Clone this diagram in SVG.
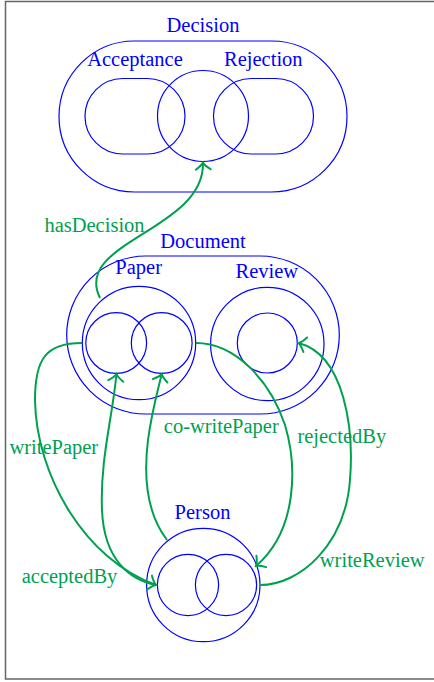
<svg xmlns="http://www.w3.org/2000/svg" width="434" height="682" viewBox="0 0 434 682">
<defs>
<style>
.n{fill:none;stroke:#0000ff;stroke-width:1.2}
.nl{fill:#0000ff;font-family:"Liberation Serif","Times New Roman",serif;font-size:20.5px;text-anchor:middle}
.e{fill:none;stroke:#00a050;stroke-width:2}
.el{fill:#00a050;font-family:"Liberation Serif","Times New Roman",serif;font-size:20.5px;text-anchor:middle}
</style>
<marker id="arr" viewBox="-10 -10 12 20" markerWidth="12" markerHeight="20" refX="0" refY="0" orient="auto" markerUnits="userSpaceOnUse">
<path d="M-7,-7.5 Q-3,-1.5 0,0 Q-3,1.5 -7,7.5" fill="none" stroke="#00a050" stroke-width="2" stroke-linecap="round"/>
</marker>
</defs>
<rect x="5.5" y="1.5" width="450" height="677.5" fill="#fff" stroke="#666" stroke-width="1.5"/>
<g id="Decision">
<rect class="n" x="59" y="41" width="288" height="151" rx="75.5"/>
<text class="nl" x="203" y="32">Decision</text>
</g>
<g id="Acceptance">
<rect class="n" x="85" y="78.5" width="100" height="75.5" rx="37.75"/>
<text class="nl" x="135" y="66">Acceptance</text>
</g>
<g id="Rejection">
<rect class="n" x="213.5" y="78.5" width="100" height="75.5" rx="37.75"/>
<text class="nl" x="263.3" y="66">Rejection</text>
</g>
<g id="DecisionMid">
<circle class="n" cx="203" cy="116" r="45.5"/>
</g>
<g id="Document">
<rect class="n" x="66.7" y="256" width="272.6" height="158" rx="79"/>
<text class="nl" x="203" y="248">Document</text>
</g>
<g id="Paper">
<circle class="n" cx="139" cy="343" r="56.7"/>
<circle class="n" cx="116.2" cy="343" r="30.4"/>
<circle class="n" cx="161.7" cy="343" r="30.4"/>
<text class="nl" x="138.7" y="274">Paper</text>
</g>
<g id="Review">
<circle class="n" cx="267.3" cy="344" r="56.7"/>
<circle class="n" cx="267.3" cy="343" r="30"/>
<text class="nl" x="266.8" y="278">Review</text>
</g>
<g id="Person">
<circle class="n" cx="203.3" cy="585" r="56.7"/>
<circle class="n" cx="188" cy="585" r="30.6"/>
<circle class="n" cx="226" cy="585" r="30.6"/>
<text class="nl" x="202.5" y="519">Person</text>
</g>
<g id="connectors">
<path class="e" d="M100,298 C72,242 205,230 203,162.5" marker-end="url(#arr)"/>
<path class="e" d="M82,343 C45,343 35,360 35,400 C36,475 85,560 156,585" marker-end="url(#arr)"/>
<path class="e" d="M156,585 C130,580 104,560 102,510 C100,460 112,420 116.5,374" marker-end="url(#arr)"/>
<path class="e" d="M167,540 C148,515 143,480 148,440 C152,410 158,390 161.7,374" marker-end="url(#arr)"/>
<path class="e" d="M196,343 C235,343 270,380 285,425 C297,465 298,530 256,566" marker-end="url(#arr)"/>
<path class="e" d="M260,585 C300,585 345,545 350,480 C354,430 345,355 298.5,343" marker-end="url(#arr)"/>
<text class="el" x="94.5" y="232">hasDecision</text>
<text class="el" x="53.8" y="454">writePaper</text>
<text class="el" x="221.3" y="433">co-writePaper</text>
<text class="el" x="341.8" y="443">rejectedBy</text>
<text class="el" x="372.2" y="567">writeReview</text>
<text class="el" x="69.5" y="583">acceptedBy</text>
</g>
</svg>
